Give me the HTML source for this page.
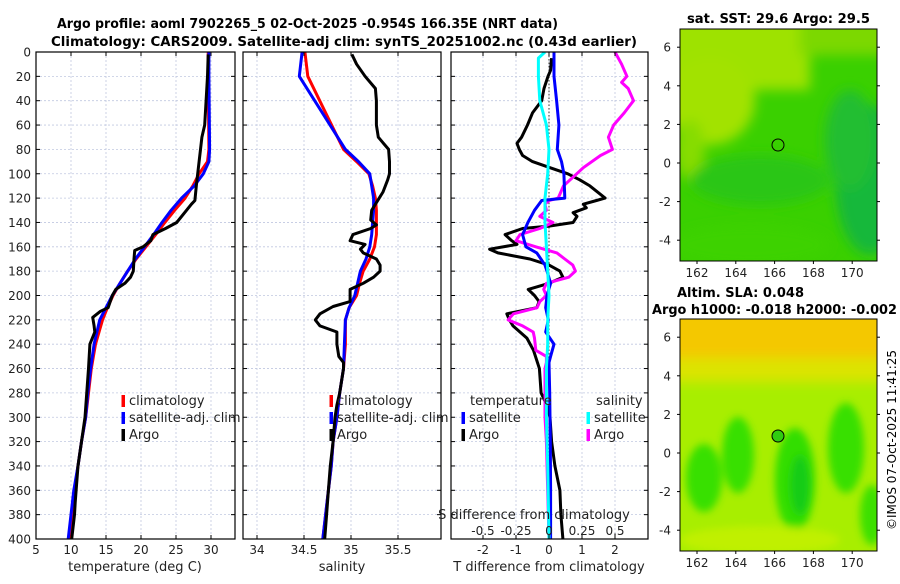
<!DOCTYPE html>
<html><head><meta charset="utf-8">
<style>
html,body{margin:0;padding:0;background:#fff;}
body{width:900px;height:580px;overflow:hidden;font-family:"DejaVu Sans","Liberation Sans",sans-serif;}
svg text{font-family:"DejaVu Sans","Liberation Sans",sans-serif;}
</style></head><body>
<svg id="fig" width="900" height="580" viewBox="0 0 900 580" xmlns="http://www.w3.org/2000/svg">
<defs>
<filter id="blur6" x="-30%" y="-30%" width="160%" height="160%"><feGaussianBlur stdDeviation="6"/></filter>
<filter id="blur4" x="-30%" y="-30%" width="160%" height="160%"><feGaussianBlur stdDeviation="4"/></filter>
<clipPath id="clipSST"><rect x="680" y="29" width="197" height="232"/></clipPath>
<clipPath id="clipSLA"><rect x="680" y="319" width="197" height="232"/></clipPath>
<clipPath id="clipP1"><rect x="36" y="52" width="199" height="487"/></clipPath>
<clipPath id="clipP2"><rect x="243" y="52" width="198" height="487"/></clipPath>
<clipPath id="clipP3"><rect x="451" y="52" width="197" height="487"/></clipPath>
</defs>
<text x="57" y="28" font-size="13" font-weight="bold" textLength="501" lengthAdjust="spacingAndGlyphs">Argo profile: aoml 7902265_5 02-Oct-2025 -0.954S 166.35E (NRT data)</text>
<text x="51" y="46" font-size="13" font-weight="bold" textLength="586" lengthAdjust="spacingAndGlyphs">Climatology: CARS2009. Satellite-adj clim: synTS_20251002.nc (0.43d earlier)</text>
<g id="grids"></g>
<g id="series"></g>
<g id="axes"></g>

<!-- SST map -->
<g clip-path="url(#clipSST)">
<rect x="680" y="29" width="197" height="232" fill="#3ad000"/>
<g filter="url(#blur6)">
<rect x="660" y="10" width="150" height="80" fill="#9ee200"/>
<rect x="800" y="10" width="100" height="45" fill="#7cd800"/>
<ellipse cx="710" cy="100" rx="45" ry="45" fill="#a2e200"/>
<ellipse cx="690" cy="150" rx="15" ry="30" fill="#86dc00"/>
<ellipse cx="870" cy="180" rx="35" ry="75" fill="#18b83a"/>
<ellipse cx="850" cy="140" rx="25" ry="50" fill="#20be30"/>
<ellipse cx="760" cy="180" rx="70" ry="25" fill="#2cc618"/>
<ellipse cx="750" cy="245" rx="80" ry="20" fill="#3cd200"/>
</g>
<circle cx="778" cy="145" r="6" fill="none" stroke="#000" stroke-width="1"/>
</g>
<rect x="680" y="29" width="197" height="232" fill="none" stroke="#000" stroke-width="1"/>
<text x="687" y="23" font-size="13" font-weight="bold" textLength="183" lengthAdjust="spacingAndGlyphs">sat. SST: 29.6 Argo: 29.5</text>

<!-- SLA map -->
<g clip-path="url(#clipSLA)">
<rect x="680" y="319" width="197" height="232" fill="#a8ee00"/>
<g filter="url(#blur6)">
<rect x="660" y="300" width="240" height="62" fill="#f4c800"/>
<rect x="660" y="358" width="240" height="24" fill="#dce400"/>
</g>
<g filter="url(#blur4)">
<ellipse cx="704" cy="478" rx="18" ry="34" fill="#38e000"/>
<ellipse cx="738" cy="455" rx="16" ry="38" fill="#38e000"/>
<ellipse cx="795" cy="480" rx="20" ry="52" fill="#30de00"/>
<ellipse cx="800" cy="485" rx="10" ry="30" fill="#18cc18"/>
<ellipse cx="846" cy="448" rx="18" ry="45" fill="#38e000"/>
<ellipse cx="872" cy="515" rx="12" ry="30" fill="#3ce000"/>
<ellipse cx="760" cy="540" rx="80" ry="14" fill="#c0f000"/>
</g>
<circle cx="778" cy="436" r="6" fill="#30cc10" stroke="#000" stroke-width="1"/>
</g>
<rect x="680" y="319" width="197" height="232" fill="none" stroke="#000" stroke-width="1"/>
<text x="677" y="297" font-size="13" font-weight="bold" textLength="127" lengthAdjust="spacingAndGlyphs">Altim. SLA: 0.048</text>
<text x="652" y="314" font-size="13" font-weight="bold" textLength="245" lengthAdjust="spacingAndGlyphs">Argo h1000: -0.018 h2000: -0.002</text>
<g id="mapaxes"></g>
<text transform="translate(896,440) rotate(-90)" font-size="12" text-anchor="middle">©IMOS 07-Oct-2025 11:41:25</text>
</svg>
<script>
// ---------- data ----------
const depthTicks = [0,20,40,60,80,100,120,140,160,180,200,220,240,260,280,300,320,340,360,380,400];
const tTicks = [5,10,15,20,25,30];
const sTicks = [34,34.5,35,35.5];
const dTTicks = [-2,-1,0,1,2];
const dSTicks = [-0.5,-0.25,0,0.25,0.5];
const dSTickLabels = ["-0.5","-0.25","0","0.25","0.5"];

const climDepth = [0,20,80,90,100,110,120,130,140,150,160,170,180,190,200,210,220,240,260,280,300,320,340,360,380,400];
const tClim = [29.6,29.6,29.7,29.5,28.3,27.4,26.3,24.8,23.4,22.1,20.7,19.3,18.1,17,16,15.2,14.5,13.5,12.9,12.5,12.1,11.5,11,10.5,10.1,9.8];
const tSat  = [29.7,29.7,29.8,29.7,28.9,27.6,25.8,24.3,23,21.8,20.5,19.2,18.1,17,15.9,15,14.1,13.3,12.8,12.4,12.1,11.5,11,10.4,10,9.6];

const tArgoDepth = [2,20,40,60,70,80,90,100,110,122,125,130,140,145,150,155,160,163,170,180,185,190,195,200,205,210,213,218,225,230,240,260,300,340,370,380,400];
const tArgo = [29.6,29.5,29.3,29.1,28.7,28.5,28.3,28.1,27.9,27.7,27.2,26.5,25.1,23.5,21.7,21.4,20.3,19.1,19,18.9,18.5,17.7,16.4,15.9,15.6,15.3,14.2,13.1,13.3,13.4,12.7,12.5,12,11,10.6,10.5,10.1];

const sClim = [34.51,34.54,34.92,35.06,35.19,35.23,35.26,35.27,35.27,35.27,35.25,35.2,35.13,35.09,35.06,34.98,34.94,34.94,34.92,34.88,34.85,34.81,34.79,34.76,34.73,34.7];
const sSat  = [34.48,34.45,34.94,35.08,35.2,35.22,35.24,35.24,35.23,35.22,35.2,35.16,35.1,35.07,35.04,34.98,34.94,34.93,34.92,34.88,34.85,34.81,34.79,34.76,34.73,34.7];

const sArgoDepth = [2,10,20,30,40,60,70,80,90,100,105,115,125,130,138,142,145,150,155,158,162,165,170,175,180,185,190,195,200,205,209,215,220,225,230,240,250,255,260,280,290,300,320,340,360,380,400];
const sArgo = [35.01,35.06,35.15,35.26,35.27,35.27,35.29,35.4,35.41,35.41,35.39,35.34,35.26,35.22,35.21,35.27,35.21,35.02,34.99,35.15,35.1,35.13,35.27,35.31,35.31,35.24,35.13,34.99,34.99,34.99,34.81,34.67,34.62,34.67,34.85,34.85,34.87,34.92,34.92,34.88,34.85,34.83,34.81,34.78,34.76,34.74,34.72];

const dTSatDepth = [0,20,40,60,80,90,100,120,122,130,140,150,160,165,175,180,190,200,210,220,230,240,250,255,280,320,360,400];
const dTSat = [0.15,0.15,0.23,0.3,0.25,0.38,0.45,0.48,-0.22,-0.44,-0.64,-0.8,-0.7,-0.37,-0.12,-0.06,0.05,-0.06,-0.1,-0.02,-0.1,0.15,0.05,0,0.02,0.04,0.05,0.05];

const dSSatDepth = [0,5,20,40,60,80,100,120,140,160,180,200,220,240,260,300,340,400];
const dSSat = [-0.03,-0.08,-0.08,-0.07,-0.02,0.0,-0.01,-0.03,-0.03,-0.02,-0.01,0.0,-0.01,-0.01,-0.02,-0.02,-0.01,0.0];

const dTArgoDepth = [5,15,20,30,40,50,60,70,75,80,85,90,95,100,105,110,120,122,125,128,132,135,140,143,145,150,155,158,162,165,170,175,180,185,190,195,200,205,210,215,220,225,235,245,260,280,290,300,320,340,360,380,400];
const dTArgo = [0.08,0.05,-0.03,-0.15,-0.22,-0.5,-0.65,-0.83,-0.97,-0.9,-0.8,-0.5,0.03,0.57,0.93,1.24,1.7,1.44,1.04,1.13,0.73,0.85,0.73,0,-0.8,-1.33,-1.13,-0.97,-1.8,-1.55,-0.58,0,0.33,0.42,0,-0.63,-0.44,-0.3,-0.37,-1.28,-1.2,-1.09,-0.67,-0.47,-0.29,-0.24,-0.07,0.03,0.08,0.18,0.33,0.36,0.42];

const dSArgoDepth = [0,10,20,25,30,40,50,60,70,80,85,95,100,110,120,122,125,130,135,140,145,150,155,160,165,170,175,180,185,190,195,200,205,210,215,220,225,230,235,245,250,255,260,300,320,360,400];
const dSArgo = [0.5,0.55,0.59,0.55,0.6,0.64,0.57,0.49,0.45,0.48,0.39,0.26,0.21,0.11,0.07,0.0,-0.03,-0.02,-0.07,0.03,-0.07,-0.22,-0.25,-0.1,0.06,0.12,0.18,0.2,0.15,-0.02,-0.04,-0.02,-0.07,-0.09,-0.27,-0.31,-0.2,-0.12,-0.11,-0.1,-0.02,-0.02,-0.03,-0.03,-0.02,-0.01,0.0];

const lonTicks = [162,164,166,168,170];
const latTicks = [-4,-2,0,2,4,6];

// ---------- scales ----------
const Y = d => 52 + d*1.2175;
const XT = t => 36 + (t-5)*7;
const XS = s => 257 + (s-34)*94;
const XDT = v => 549 + v*33;
const XDS = v => 549 + v*132;
const NS = "http://www.w3.org/2000/svg";
function mk(tag, attrs, parent){const e=document.createElementNS(NS,tag);for(const k in attrs)e.setAttribute(k,attrs[k]);parent.appendChild(e);return e;}
const grids=document.getElementById('grids'), series=document.getElementById('series'), axes=document.getElementById('axes'), mapaxes=document.getElementById('mapaxes');

const panels=[{x0:36,x1:235,ticks:tTicks,fx:XT,name:'temperature-panel',lbl:'temperature (deg C)',lx:135,clip:'clipP1'},
 {x0:243,x1:441,ticks:sTicks,fx:XS,name:'salinity-panel',lbl:'salinity',lx:342,clip:'clipP2'},
 {x0:451,x1:648,ticks:dTTicks,fx:XDT,name:'difference-panel',lbl:'T difference from climatology',lx:549,clip:'clipP3'}];

panels.forEach((p,pi)=>{
  depthTicks.forEach(d=>{
    if(d===0||d===400) return;
    const g=mk('line',{x1:p.x0,x2:p.x1,y1:Y(d),y2:Y(d),stroke:'#c0c8e0','stroke-width':0.8,'stroke-dasharray':'2,2'},grids);
    
    
  });
  p.ticks.forEach((t,i)=>{
    const x=p.fx(t);
    const g=mk('line',{x1:x,x2:x,y1:52,y2:539,stroke:'#c0c8e0','stroke-width':0.8,'stroke-dasharray':'2,2'},grids);
    
    
    mk('line',{x1:x,x2:x,y1:539,y2:535,stroke:'#000'},axes);
    mk('line',{x1:x,x2:x,y1:52,y2:56,stroke:'#000'},axes);
    const tl=mk('text',{x:x,y:554,'font-size':12,'text-anchor':'middle',fill:'#222'},axes);
    tl.textContent=String(t);
    
    
  });
  depthTicks.forEach(d=>{
    mk('line',{x1:p.x0,x2:p.x0+4,y1:Y(d),y2:Y(d),stroke:'#000'},axes);
    mk('line',{x1:p.x1,x2:p.x1-4,y1:Y(d),y2:Y(d),stroke:'#000'},axes);
  });
  const fr=mk('rect',{x:p.x0,y:52,width:p.x1-p.x0,height:487,fill:'none',stroke:'#000','stroke-width':1.2},axes);
  
  
  const xl=mk('text',{x:p.lx,y:571,'font-size':13,'text-anchor':'middle',fill:'#222'},axes);
  xl.textContent=p.lbl;
  
  
});
depthTicks.forEach(d=>{
  const t=mk('text',{x:31,y:Y(d)+4.5,'font-size':12,'text-anchor':'end',fill:'#222'},axes);
  t.textContent=String(d);
  
  
});
const zl=mk('line',{x1:XDT(0),x2:XDT(0),y1:52,y2:539,stroke:'#333','stroke-width':1,'stroke-dasharray':'1.5,2'},grids);



function line(depths, vals, fx, color, clip, name){
  const pts=depths.map((d,i)=>fx(vals[i]).toFixed(1)+','+Y(d).toFixed(1)).join(' ');
  const e=mk('polyline',{points:pts,fill:'none',stroke:color,'stroke-width':3,'stroke-linejoin':'round','clip-path':'url(#'+clip+')'},series);
  
  
}
line(climDepth,tClim,XT,'#ff0000','clipP1','temperature-climatology-line');
line(climDepth,tSat,XT,'#0000ff','clipP1','temperature-satellite-line');
line(tArgoDepth,tArgo,XT,'#000000','clipP1','temperature-argo-line');
line(climDepth,sClim,XS,'#ff0000','clipP2','salinity-climatology-line');
line(climDepth,sSat,XS,'#0000ff','clipP2','salinity-satellite-line');
line(sArgoDepth,sArgo,XS,'#000000','clipP2','salinity-argo-line');
line(dTArgoDepth,dTArgo,XDT,'#000000','clipP3','t-diff-argo-line');
line(dSArgoDepth,dSArgo,XDS,'#ff00ff','clipP3','s-diff-argo-line');
line(dTSatDepth,dTSat,XDT,'#0000ff','clipP3','t-diff-satellite-line');
line(dSSatDepth,dSSat,XDS,'#00ffff','clipP3','s-diff-satellite-line');

const st=mk('text',{x:534,y:519,'font-size':13,'text-anchor':'middle',fill:'#222'},axes);
st.textContent='S difference from climatology';


dSTicks.forEach((v,i)=>{
  const t=mk('text',{x:XDS(v),y:535,'font-size':12,'text-anchor':'middle',fill:'#222'},axes);
  t.textContent=dSTickLabels[i];
  
  
});

function legend(x,y,color,label,name){
  const b=mk('rect',{x:x-1.5,y:y-10,width:3.5,height:12,fill:color},axes);
  
  
  const t=mk('text',{x:x+6,y:y,'font-size':13,fill:'#222'},axes);
  t.textContent=label;
  
  
}
legend(123,405,'#ff0000','climatology','legend-temp-climatology');
legend(123,422,'#0000ff','satellite-adj. clim','legend-temp-satellite');
legend(123,439,'#000000','Argo','legend-temp-argo');
legend(331,405,'#ff0000','climatology','legend-sal-climatology');
legend(331,422,'#0000ff','satellite-adj. clim','legend-sal-satellite');
legend(331,439,'#000000','Argo','legend-sal-argo');
const lt=mk('text',{x:470,y:405,'font-size':13,fill:'#222'},axes);
lt.textContent='temperature';


const ls=mk('text',{x:596,y:405,'font-size':13,fill:'#222'},axes);
ls.textContent='salinity';


legend(463,422,'#0000ff','satellite','legend-diff-t-satellite');
legend(463,439,'#000000','Argo','legend-diff-t-argo');
legend(588,422,'#00ffff','satellite','legend-diff-s-satellite');
legend(588,439,'#ff00ff','Argo','legend-diff-s-argo');

const LON = l => 697 + (l-162)*19.4;
[{lat0:163,top:29,bot:261,name:'sst'},{lat0:453,top:319,bot:551,name:'sla'}].forEach(m=>{
  lonTicks.forEach(l=>{
    const x=LON(l);
    mk('line',{x1:x,x2:x,y1:m.bot,y2:m.bot+3,stroke:'#000'},mapaxes);
    const t=mk('text',{x:x,y:m.bot+16,'font-size':12,'text-anchor':'middle',fill:'#222'},mapaxes);
    t.textContent=String(l);
    
    
  });
  latTicks.forEach(la=>{
    const y=m.lat0 - la*19.3;
    mk('line',{x1:677,x2:680,y1:y,y2:y,stroke:'#000'},mapaxes);
    mk('line',{x1:877,x2:880,y1:y,y2:y,stroke:'#000'},mapaxes);
    const t=mk('text',{x:671,y:y+4.5,'font-size':12,'text-anchor':'end',fill:'#222'},mapaxes);
    t.textContent=String(la);
    
    
  });
});
</script>
</body></html>
